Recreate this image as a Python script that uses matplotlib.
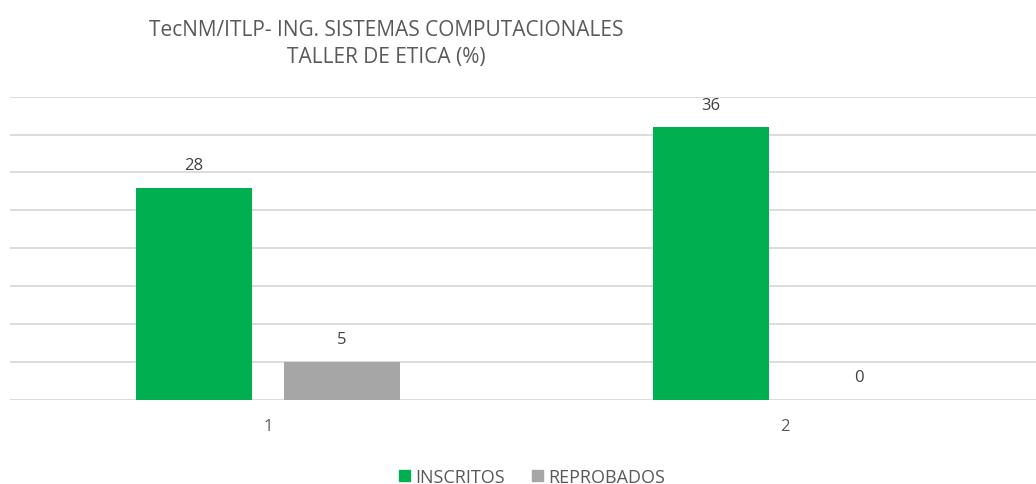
import numpy as np
import matplotlib.pyplot as plt
from matplotlib.patches import Patch

categories = ["1", "2"]
inscritos = [28, 36]
reprobados = [5, 0]
series_names = ["INSCRITOS", "REPROBADOS"]

GREEN = "#00B050"
GRAY = "#A6A6A6"
TEXT = "#595959"
GRID = "#D9D9D9"

plt.rcParams["font.family"] = ["Open Sans", "DejaVu Sans"]

fig = plt.figure(figsize=(10.36, 4.85), dpi=100)
ax = fig.add_axes([9.5 / 1036, 0.1738, 1034 / 1036, 0.6247])

x = np.arange(len(categories))
width = 0.225
offset = 0.143

b1 = ax.bar(x - offset, inscritos, width, color=GREEN, zorder=3)
b2 = ax.bar(x + offset, reprobados, width, color=GRAY, zorder=3)

for bars, vals in ((b1, inscritos), (b2, reprobados)):
    for rect, v in zip(bars, vals):
        ax.text(rect.get_x() + rect.get_width() / 2, v + 1.9, str(v),
                ha="center", va="bottom", fontsize=12, color="#404040")

ax.set_xlim(-0.5, 1.5)
ax.set_ylim(0, 40)
ax.set_yticks(np.arange(0, 41, 5))
ax.yaxis.grid(True, color=GRID, linewidth=1.3, zorder=0)
ax.tick_params(axis="y", left=False, labelleft=False)
ax.set_xticks(x)
ax.set_xticklabels(categories, fontsize=12, color=TEXT)
ax.tick_params(axis="x", length=0, pad=13)
for s in ax.spines.values():
    s.set_visible(False)

fig.text(386 / 1036, 1 - 44 / 485, "TecNM/ITLP- ING. SISTEMAS COMPUTACIONALES\nTALLER DE ETICA (%)",
         ha="center", va="center", fontsize=15, color=TEXT, linespacing=1.35)

handles = [Patch(color=GREEN), Patch(color=GRAY)]
fig.legend(handles, series_names, loc="center", bbox_to_anchor=(532 / 1036, 1 - 478 / 485),
           ncol=2, frameon=False, fontsize=13, labelcolor=TEXT,
           handlelength=0.6, handleheight=0.6, handletextpad=0.3, columnspacing=1.5)

fig.savefig("out.png", dpi=100)
